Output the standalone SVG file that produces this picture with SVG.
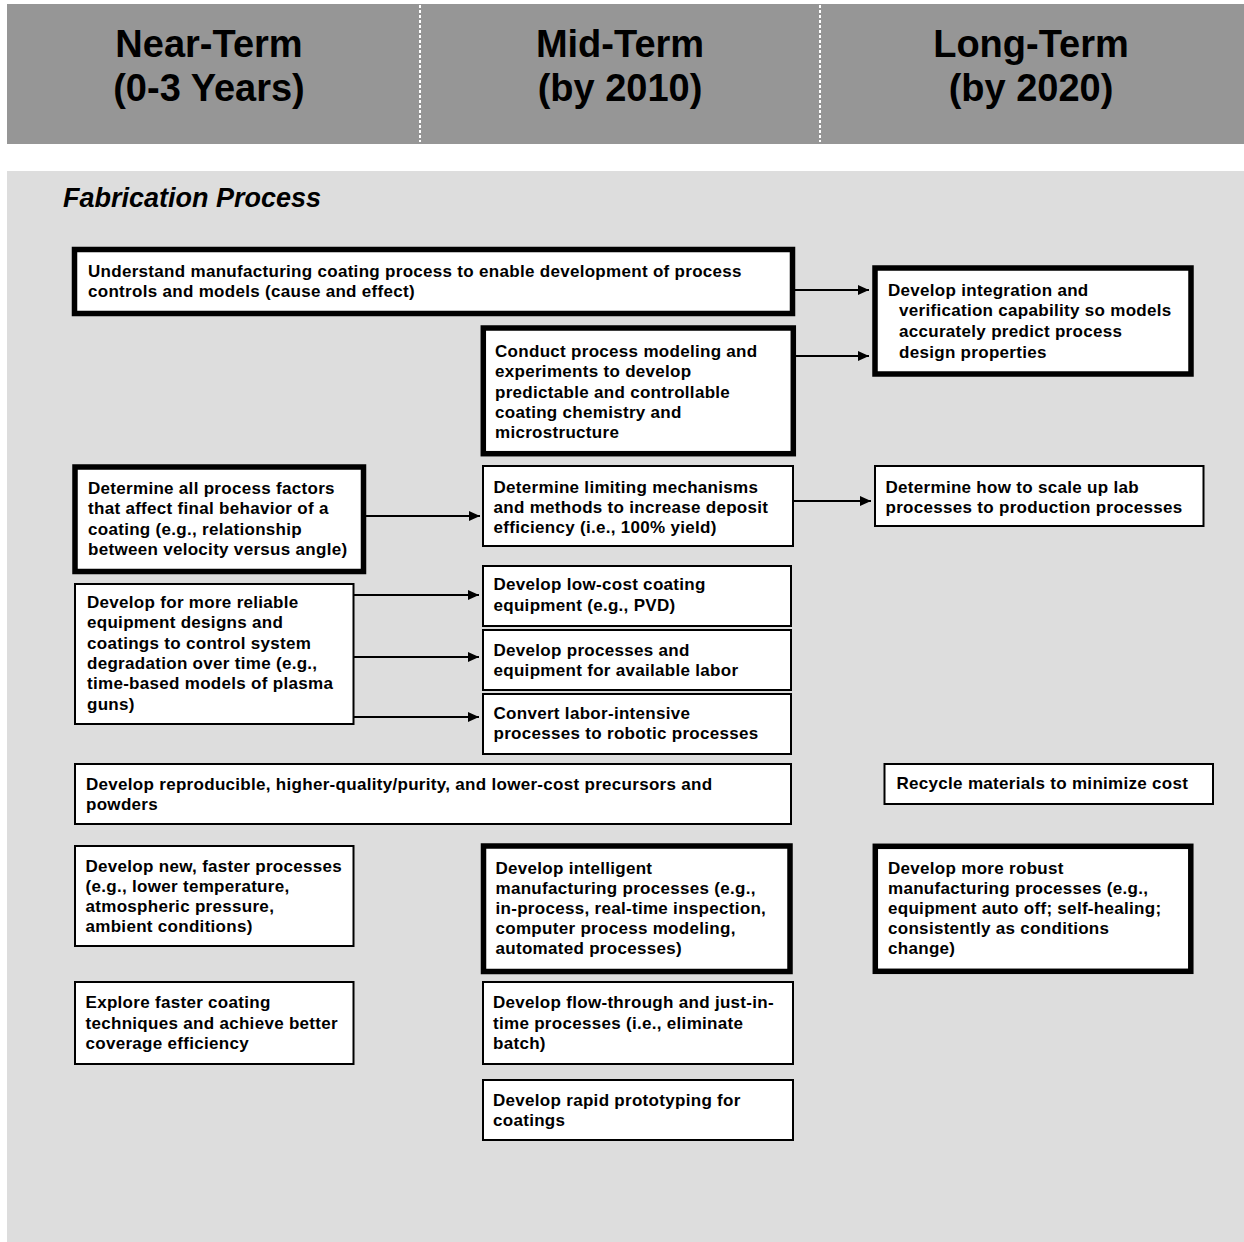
<svg xmlns="http://www.w3.org/2000/svg" width="1244" height="1242" viewBox="0 0 1244 1242">
  <style>
    .hdr { fill: #969696; }
    .sep { stroke: #ffffff; stroke-width: 2; stroke-dasharray: 3 2; fill: none; }
    .htxt { font-family: "Liberation Sans", Arial, sans-serif; font-weight: bold; font-size: 38px; fill: #000; text-anchor: middle; }
    .panel { fill: #dddddd; }
    .title { font-family: "Liberation Sans", Arial, sans-serif; font-weight: bold; font-style: italic; font-size: 27px; fill: #000; }
    .box { fill: #ffffff; stroke: #000; stroke-width: 2; }
    .thick { fill: #ffffff; stroke: #000; stroke-width: 5.5; }
    .t { font-family: "Liberation Sans", Arial, sans-serif; font-weight: bold; font-size: 17px; letter-spacing: 0.3px; fill: #000; }
    .conn { stroke: #000; stroke-width: 2; fill: none; marker-end: url(#arrow); }
  </style>
  <defs>
    <marker id="arrow" viewBox="0 0 10 10" refX="10" refY="5" markerWidth="5.5" markerHeight="5" markerUnits="strokeWidth" orient="auto" preserveAspectRatio="none">
      <path d="M0,0 L10,5 L0,10 Z" fill="#000"/>
    </marker>
  </defs>

  <!-- timeline header -->
  <g id="header">
    <rect class="hdr" x="7" y="4" width="1237" height="140"/>
    <line class="sep" x1="420" y1="5" x2="420" y2="142"/>
    <line class="sep" x1="820" y1="5" x2="820" y2="142"/>
    <text class="htxt" x="209" y="57">Near-Term</text>
    <text class="htxt" x="209" y="101">(0-3 Years)</text>
    <text class="htxt" x="620" y="57">Mid-Term</text>
    <text class="htxt" x="620" y="101">(by 2010)</text>
    <text class="htxt" x="1031" y="57">Long-Term</text>
    <text class="htxt" x="1031" y="101">(by 2020)</text>
  </g>

  <!-- section background -->
  <rect class="panel" x="7" y="171" width="1237" height="1071"/>
  <text class="title" x="63" y="207">Fabrication Process</text>

  <!-- connectors -->
  <g id="connectors">
    <line class="conn" x1="795" y1="290" x2="869" y2="290"/>
    <line class="conn" x1="796" y1="356" x2="869" y2="356"/>
    <line class="conn" x1="366" y1="516" x2="480" y2="516"/>
    <line class="conn" x1="794" y1="501" x2="871" y2="501"/>
    <line class="conn" x1="354" y1="595" x2="479" y2="595"/>
    <line class="conn" x1="354" y1="657" x2="479" y2="657"/>
    <line class="conn" x1="354" y1="717" x2="479" y2="717"/>
  </g>

  <!-- near-term column -->
  <g id="n-understand">
    <rect class="thick" x="74.5" y="249.5" width="718" height="64"/>
    <text class="t" x="88" y="277">Understand manufacturing coating process to enable development of process</text>
    <text class="t" x="88" y="297">controls and models (cause and effect)</text>
  </g>
  <g id="n-factors">
    <rect class="thick" x="75" y="467" width="288.5" height="104.5"/>
    <text class="t" x="88" y="494">Determine all process factors</text>
    <text class="t" x="88" y="514">that affect final behavior of a</text>
    <text class="t" x="88" y="534.5">coating (e.g., relationship</text>
    <text class="t" x="88" y="555">between velocity versus angle)</text>
  </g>
  <g id="n-reliable">
    <rect class="box" x="75" y="584" width="278.5" height="140"/>
    <text class="t" x="87" y="608">Develop for more reliable</text>
    <text class="t" x="87" y="628.3">equipment designs and</text>
    <text class="t" x="87" y="648.6">coatings to control system</text>
    <text class="t" x="87" y="668.9">degradation over time (e.g.,</text>
    <text class="t" x="87" y="689.2">time-based models of plasma</text>
    <text class="t" x="87" y="709.5">guns)</text>
  </g>
  <g id="n-precursors">
    <rect class="box" x="75" y="764" width="716" height="60"/>
    <text class="t" x="86" y="790">Develop reproducible, higher-quality/purity, and lower-cost precursors and</text>
    <text class="t" x="86" y="810">powders</text>
  </g>
  <g id="n-faster">
    <rect class="box" x="75" y="846" width="278.5" height="100"/>
    <text class="t" x="85.5" y="872">Develop new, faster processes</text>
    <text class="t" x="85.5" y="892">(e.g., lower temperature,</text>
    <text class="t" x="85.5" y="912">atmospheric pressure,</text>
    <text class="t" x="85.5" y="932">ambient conditions)</text>
  </g>
  <g id="n-explore">
    <rect class="box" x="75" y="982" width="278.5" height="82"/>
    <text class="t" x="85.5" y="1008">Explore faster coating</text>
    <text class="t" x="85.5" y="1028.5">techniques and achieve better</text>
    <text class="t" x="85.5" y="1049">coverage efficiency</text>
  </g>

  <!-- mid-term column -->
  <g id="m-modeling">
    <rect class="thick" x="483.3" y="328" width="310" height="125.7"/>
    <text class="t" x="495" y="356.5">Conduct process modeling and</text>
    <text class="t" x="495" y="376.5">experiments to develop</text>
    <text class="t" x="495" y="397.5">predictable and controllable</text>
    <text class="t" x="495" y="417.5">coating chemistry and</text>
    <text class="t" x="495" y="437.5">microstructure</text>
  </g>
  <g id="m-limiting">
    <rect class="box" x="483" y="466" width="310" height="80"/>
    <text class="t" x="493.5" y="492.5">Determine limiting mechanisms</text>
    <text class="t" x="493.5" y="512.5">and methods to increase deposit</text>
    <text class="t" x="493.5" y="532.5">efficiency (i.e., 100% yield)</text>
  </g>
  <g id="m-lowcost">
    <rect class="box" x="483" y="566" width="308" height="60"/>
    <text class="t" x="493.5" y="590">Develop low-cost coating</text>
    <text class="t" x="493.5" y="611">equipment (e.g., PVD)</text>
  </g>
  <g id="m-labor">
    <rect class="box" x="483" y="630" width="308" height="60"/>
    <text class="t" x="493.5" y="655.5">Develop processes and</text>
    <text class="t" x="493.5" y="675.5">equipment for available labor</text>
  </g>
  <g id="m-robotic">
    <rect class="box" x="483" y="694" width="308" height="60"/>
    <text class="t" x="493.5" y="719">Convert labor-intensive</text>
    <text class="t" x="493.5" y="739">processes to robotic processes</text>
  </g>
  <g id="m-intelligent">
    <rect class="thick" x="483.5" y="846" width="306.5" height="125.5"/>
    <text class="t" x="495.5" y="873.5">Develop intelligent</text>
    <text class="t" x="495.5" y="893.5">manufacturing processes (e.g.,</text>
    <text class="t" x="495.5" y="913.5">in-process, real-time inspection,</text>
    <text class="t" x="495.5" y="933.5">computer process modeling,</text>
    <text class="t" x="495.5" y="953.5">automated processes)</text>
  </g>
  <g id="m-flow">
    <rect class="box" x="483" y="982" width="310" height="82"/>
    <text class="t" x="493" y="1008">Develop flow-through and just-in-</text>
    <text class="t" x="493" y="1028.5">time processes (i.e., eliminate</text>
    <text class="t" x="493" y="1049">batch)</text>
  </g>
  <g id="m-rapid">
    <rect class="box" x="483" y="1080" width="310" height="60"/>
    <text class="t" x="493" y="1105.5">Develop rapid prototyping for</text>
    <text class="t" x="493" y="1125.5">coatings</text>
  </g>

  <!-- long-term column -->
  <g id="l-integration">
    <rect class="thick" x="875" y="268" width="316" height="106"/>
    <text class="t" x="888" y="296">Develop integration and</text>
    <text class="t" x="899" y="316">verification capability so models</text>
    <text class="t" x="899" y="336.5">accurately predict process</text>
    <text class="t" x="899" y="357.5">design properties</text>
  </g>
  <g id="l-scaleup">
    <rect class="box" x="875" y="466" width="328.5" height="60"/>
    <text class="t" x="885.5" y="492.5">Determine how to scale up lab</text>
    <text class="t" x="885.5" y="512.5">processes to production processes</text>
  </g>
  <g id="l-recycle">
    <rect class="box" x="884.5" y="764" width="328.5" height="40"/>
    <text class="t" x="896.5" y="789">Recycle materials to minimize cost</text>
  </g>
  <g id="l-robust">
    <rect class="thick" x="875.3" y="846.3" width="315.5" height="125"/>
    <text class="t" x="888" y="873.5">Develop more robust</text>
    <text class="t" x="888" y="893.5">manufacturing processes (e.g.,</text>
    <text class="t" x="888" y="913.5">equipment auto off; self-healing;</text>
    <text class="t" x="888" y="933.5">consistently as conditions</text>
    <text class="t" x="888" y="953.5">change)</text>
  </g>
</svg>
